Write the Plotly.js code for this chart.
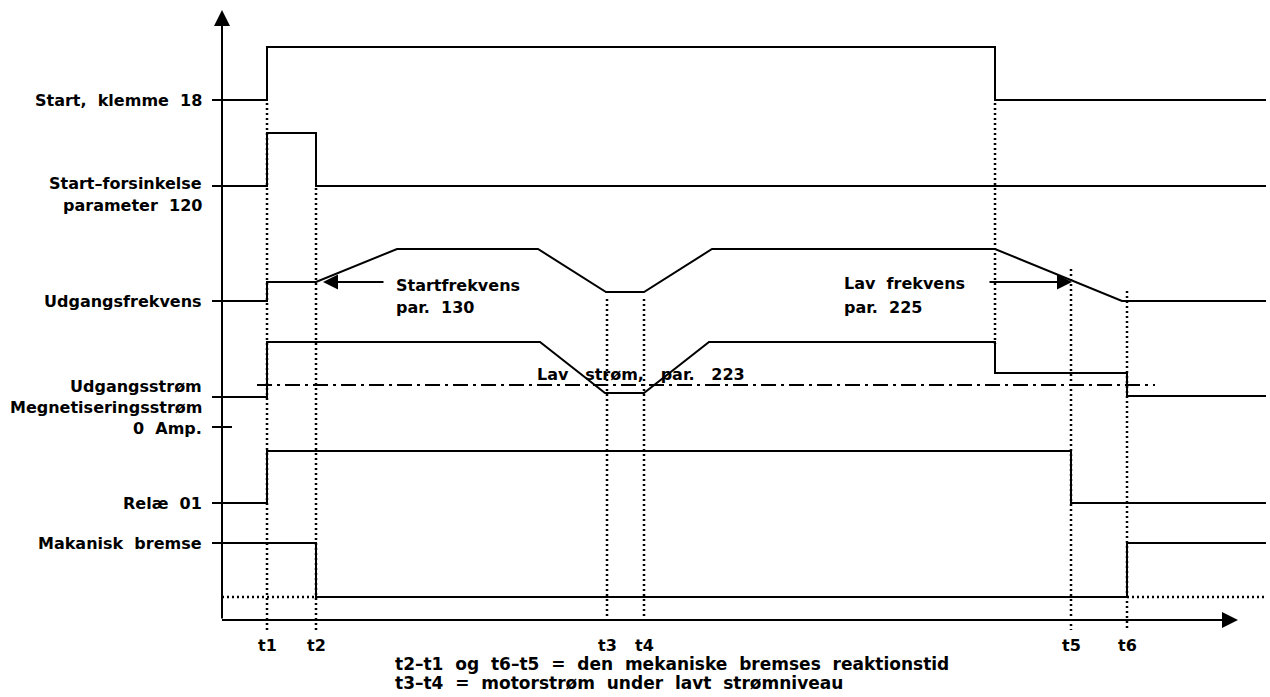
<!DOCTYPE html>
<html>
<head>
<meta charset="utf-8">
<script src="https://cdn.plot.ly/plotly-3.0.1.min.js"></script>
<style>html,body{margin:0;padding:0;background:#fff;}#chart{width:1270px;height:697px;}</style>
</head>
<body>
<div id="chart"></div>
<script>
// ---- time markers (arbitrary time units) ----
const markNames = ['t1', 't2', 't3', 't4', 't5', 't6'];
const markTimes = [4.5, 9.4, 38.5, 42.2, 84.9, 90.5];
const markTop = [51.7, 43.2, 32.1, 32.1, 35.1, 32.9];
const markBottom = [-1.3, -1.3, 0.2, 0.2, -1.0, -1.0];
const stopTime = 77.3;
const stopMarkTop = 51.7;
const stopMarkBottom = 27.6;
const endTime = 104.4;

// ---- signals ----
const startX = [0, 4.5, 4.5, 77.3, 77.3, 104.4];
const startY = [52.0, 52.0, 57.3, 57.3, 52.0, 52.0];

const delayX = [0, 4.5, 4.5, 9.4, 9.4, 104.4];
const delayY = [43.4, 43.4, 48.7, 48.7, 43.4, 43.4];

const freqX = [0, 4.5, 4.5, 9.4, 17.5, 31.6, 38.4, 42.2, 49.0, 77.3, 90.0, 104.4];
const freqY = [31.9, 31.9, 33.8, 33.8, 37.1, 37.1, 32.8, 32.8, 37.1, 37.1, 31.9, 31.9];

const currX = [0, 4.5, 4.5, 31.8, 38.3, 42.2, 48.7, 77.3, 77.3, 90.5, 90.5, 104.4];
const currY = [22.3, 22.3, 27.8, 27.8, 22.7, 22.7, 27.8, 27.8, 24.7, 24.7, 22.4, 22.4];

const relayX = [0, 4.5, 4.5, 84.9, 84.9, 104.4];
const relayY = [11.7, 11.7, 16.9, 16.9, 11.7, 11.7];

const brakeX = [0, 9.4, 9.4, 90.5, 90.5, 104.4];
const brakeY = [7.7, 7.7, 2.3, 2.3, 7.7, 7.7];

const brakeRefLevel = 2.3;
const brakeRefX = [0, 9.4, 90.5, 104.4];

const lowCurrentLevel = 23.5;
const lowCurrentX = [3.5, 93.3];

// ---- axis / ticks ----
const tickLevels = [52.0, 43.4, 31.9, 22.3, 19.3, 11.7, 7.7];
const tickRight = [0, 0, 0, 0, 1.0, 0, 0];
const axisTopY = 61.0;
const axisRightX = 101.6;

const rowLabels = ['Start,\u00a0\u00a0klemme\u00a0\u00a018', 'Start\u2013forsinkelse', 'parameter\u00a0\u00a0120', 'Udgangsfrekvens',
  'Udgangsstr\u00f8m', 'Megnetiseringsstr\u00f8m', '0\u00a0\u00a0Amp.', 'Rel\u00e6\u00a0\u00a001', 'Makanisk\u00a0\u00a0bremse'];
const rowLabelY = [52.0, 43.7, 41.5, 31.9, 23.4, 21.3, 19.2, 11.7, 7.7];

const noteLines = ['t2\u2013t1\u00a0\u00a0og\u00a0\u00a0t6\u2013t5\u00a0\u00a0=\u00a0\u00a0den\u00a0\u00a0mekaniske\u00a0\u00a0bremses\u00a0\u00a0reaktionstid',
  't3\u2013t4\u00a0\u00a0=\u00a0\u00a0motorstr\u00f8m\u00a0\u00a0under\u00a0\u00a0lavt\u00a0\u00a0str\u00f8mniveau'];
const noteY = [-4.4, -6.3];

const FONT = {family: 'DejaVu Sans', size: 16, color: '#000', weight: 700};
const NOTEFONT = {family: 'DejaVu Sans', size: 17, color: '#000', weight: 700};
const BLK = '#000';

const traces = [];
function line(x, y, opts) {
  traces.push(Object.assign({type: 'scatter', mode: 'lines', x: x, y: y, hoverinfo: 'skip',
    line: {color: BLK, width: 2}, showlegend: false}, opts || {}));
}
// signals
line(startX, startY);
line(delayX, delayY);
line(freqX, freqY);
line(currX, currY);
line(relayX, relayY);
line(brakeX, brakeY);
// x axis
line([0, axisRightX - 1], [0, 0]);
// ticks
{
  const tx = [], ty = [];
  tickLevels.forEach((v, i) => { tx.push(-1.0, tickRight[i], null); ty.push(v, v, null); });
  line(tx, ty);
}
// vertical dotted markers
{
  const vx = [], vy = [];
  markTimes.forEach((t, i) => { vx.push(t, t, null); vy.push(markTop[i], markBottom[i], null); });
  vx.push(stopTime, stopTime, null); vy.push(stopMarkTop, stopMarkBottom, null);
  line(vx, vy, {line: {color: BLK, width: 2.5, dash: '2px,3px'}});
}
// dotted brake reference
line([brakeRefX[0], brakeRefX[1], null, brakeRefX[2], brakeRefX[3]],
     [brakeRefLevel, brakeRefLevel, null, brakeRefLevel, brakeRefLevel],
     {line: {color: BLK, width: 2.5, dash: '2px,3px'}});
// dash-dot low current
line(lowCurrentX, [lowCurrentLevel, lowCurrentLevel], {line: {color: BLK, width: 2, dash: '15px,5px,3px,5px'}});

const ann = [];
// axis arrows
ann.push({x: 0, y: axisTopY, ax: 0, ay: 0, axref: 'x', ayref: 'y', xref: 'x', yref: 'y', text: '',
  showarrow: true, arrowhead: 2, arrowsize: 1.6, arrowwidth: 2, arrowcolor: BLK});
ann.push({x: axisRightX, y: 0, ax: axisRightX - 2, ay: 0, axref: 'x', ayref: 'y', xref: 'x', yref: 'y', text: '',
  showarrow: true, arrowhead: 2, arrowsize: 1.6, arrowwidth: 2, arrowcolor: BLK});
// row labels
rowLabels.forEach((t, i) => ann.push({x: -1.8, y: rowLabelY[i], xref: 'x', yref: 'y', text: t, showarrow: false,
  xanchor: 'right', yanchor: 'middle', font: FONT}));
// time labels
markNames.forEach((t, i) => ann.push({x: markTimes[i], y: -2.5, xref: 'x', yref: 'y', text: t, showarrow: false,
  xanchor: 'center', yanchor: 'middle', font: FONT}));
// notes
noteLines.forEach((t, i) => ann.push({x: 17.1, y: noteY[i], xref: 'x', yref: 'y', text: t, showarrow: false,
  xanchor: 'left', yanchor: 'middle', font: NOTEFONT}));
// callouts
ann.push({x: 17.2, y: 33.5, xref: 'x', yref: 'y', text: 'Startfrekvens', showarrow: false, xanchor: 'left', yanchor: 'middle', font: FONT});
ann.push({x: 17.2, y: 31.3, xref: 'x', yref: 'y', text: 'par.\u00a0\u00a0130', showarrow: false, xanchor: 'left', yanchor: 'middle', font: FONT});
ann.push({x: 10.1, y: 33.8, ax: 16.3, ay: 33.8, axref: 'x', ayref: 'y', xref: 'x', yref: 'y', text: '',
  showarrow: true, arrowhead: 2, arrowsize: 1.5, arrowwidth: 2, arrowcolor: BLK});
ann.push({x: 62.0, y: 33.7, xref: 'x', yref: 'y', text: 'Lav\u00a0\u00a0frekvens', showarrow: false, xanchor: 'left', yanchor: 'middle', font: FONT});
ann.push({x: 62.0, y: 31.3, xref: 'x', yref: 'y', text: 'par.\u00a0\u00a0225', showarrow: false, xanchor: 'left', yanchor: 'middle', font: FONT});
ann.push({x: 85.0, y: 33.8, ax: 76.6, ay: 33.8, axref: 'x', ayref: 'y', xref: 'x', yref: 'y', text: '',
  showarrow: true, arrowhead: 2, arrowsize: 1.5, arrowwidth: 2, arrowcolor: BLK});
ann.push({x: 31.3, y: 24.6, xref: 'x', yref: 'y', text: 'Lav\u00a0\u00a0\u00a0str\u00f8m,\u00a0\u00a0\u00a0par.\u00a0\u00a0\u00a0223', showarrow: false,
  xanchor: 'left', yanchor: 'middle', font: FONT});

const layout = {
  width: 1270, height: 697,
  margin: {l: 0, r: 0, t: 0, b: 0, pad: 0},
  paper_bgcolor: '#fff', plot_bgcolor: '#fff',
  xaxis: {range: [-22.2, 104.8], visible: false, fixedrange: true},
  yaxis: {range: [-7.7, 62.0], visible: false, fixedrange: true},
  annotations: ann,
  showlegend: false
};
Plotly.newPlot('chart', traces, layout, {staticPlot: true});
</script>
</body>
</html>
